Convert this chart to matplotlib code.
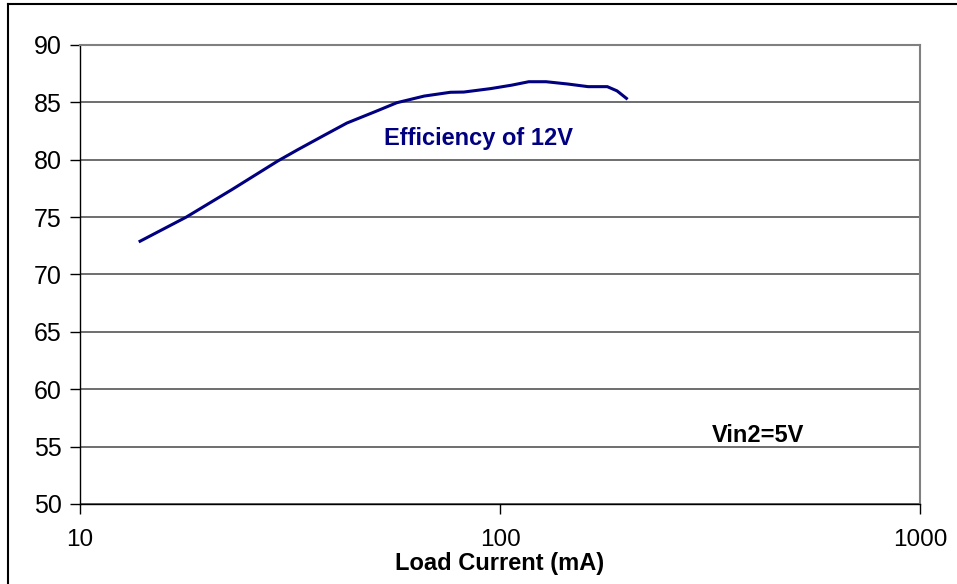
import matplotlib
matplotlib.use('Agg')
import matplotlib.pyplot as plt
from matplotlib.lines import Line2D
import numpy as np

# 負荷電流 (mA) と効率 (%)
load_current = [13.9, 17.9, 23.0, 29.6, 32.9, 38.0, 43.2, 50.5, 56.8, 66.0, 76.2, 82.0,
                95.0, 106.6, 117.1, 128.7, 145.0, 162.1, 180.1, 190.0, 200.0]
efficiency = [72.9, 75.0, 77.4, 79.9, 80.85, 82.1, 83.2, 84.2, 84.97, 85.55, 85.88, 85.9,
              86.2, 86.5, 86.8, 86.8, 86.6, 86.37, 86.37, 86.0, 85.35]

y_ticks = [50, 55, 60, 65, 70, 75, 80, 85, 90]
x_ticks = [10, 100, 1000]
x_tick_labels = ["10", "100", "1000"]

plt.rcParams['font.family'] = ['Liberation Sans', 'DejaVu Sans']

fig = plt.figure(figsize=(9.57, 5.84), dpi=100, facecolor='w')
ax = fig.add_axes([80 / 957, 1 - 504 / 584, 840 / 957, 459 / 584])

ax.plot(load_current, efficiency, color="#000080", linewidth=2.2, linestyle="-")

ax.set_xscale('log')
ax.set_xlim(10, 1000)
ax.set_ylim(50, 90)
ax.set_xticks(x_ticks)
ax.set_xticklabels(x_tick_labels)
ax.xaxis.set_minor_locator(matplotlib.ticker.NullLocator())
ax.set_yticks(y_ticks)
ax.tick_params(axis='both', labelsize=18, length=7, width=1, direction='out')
ax.tick_params(axis='x', labelsize=17.5, pad=11)
ax.tick_params(axis='y', pad=6)

ax.grid(True, axis='y', color='#555555', linewidth=1.2)
ax.set_axisbelow(True)
for side in ['top', 'right']:
    ax.spines[side].set_color('#808080')
    ax.spines[side].set_linewidth(1.5)
for side in ['left', 'bottom']:
    ax.spines[side].set_color('black')
    ax.spines[side].set_linewidth(1)

ax.set_xlabel("Load Current (mA)", fontsize=17, fontweight='bold', labelpad=1)

ax.text(0.475, 0.797, "Efficiency of 12V", transform=ax.transAxes, color="#000080",
        fontsize=17, fontweight='bold', ha='center', va='center')
ax.text(0.807, 0.150, "Vin2=5V", transform=ax.transAxes, color="black",
        fontsize=17, fontweight='bold', ha='center', va='center')

# 外枠 (上と左だけ見えている)
fig.add_artist(Line2D([8 / 957, 1.0], [1 - 4 / 584, 1 - 4 / 584], color='black',
                      linewidth=1.5, transform=fig.transFigure))
fig.add_artist(Line2D([8 / 957, 8 / 957], [0.0, 1 - 4 / 584], color='black',
                      linewidth=1.5, transform=fig.transFigure))

fig.savefig("out.png", dpi=100)
